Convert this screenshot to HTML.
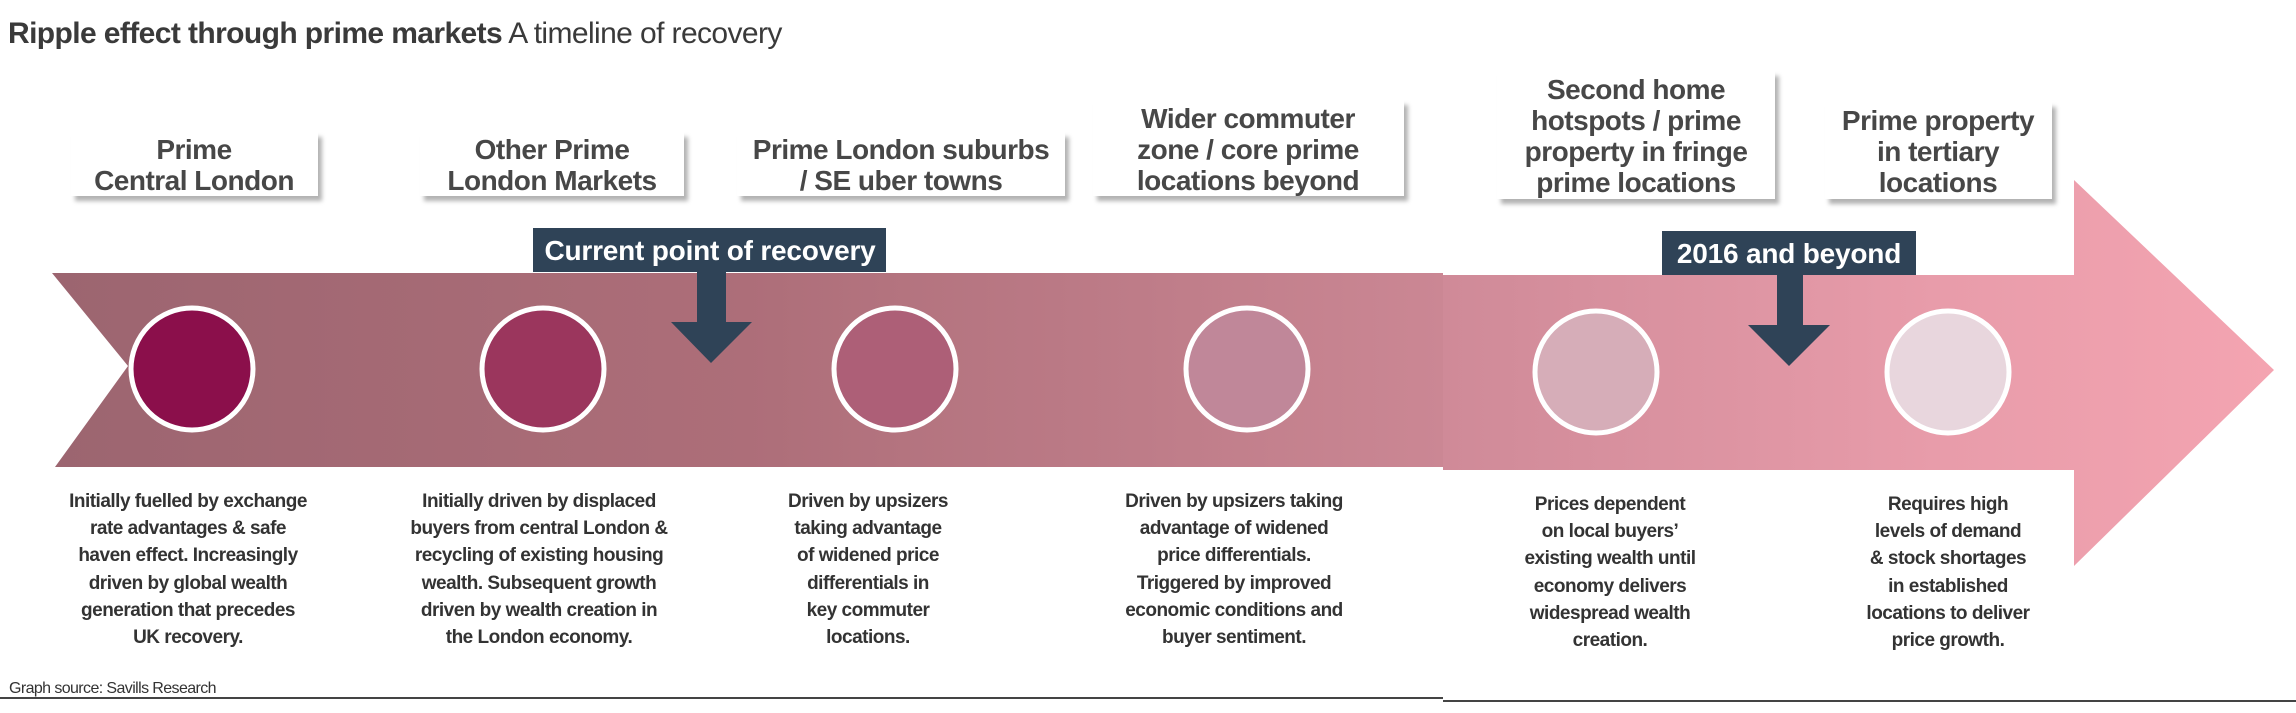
<!DOCTYPE html>
<html><head><meta charset="utf-8"><style>
html,body{margin:0;padding:0;background:#fff;}
svg{display:block;}
.t{font-family:"Liberation Sans",sans-serif;}
.lb{font-family:"Liberation Sans",sans-serif;font-size:28px;font-weight:bold;fill:#474747;text-anchor:middle;letter-spacing:-0.5px;}
.ds{font-family:"Liberation Sans",sans-serif;font-size:19px;font-weight:bold;fill:#333;text-anchor:middle;letter-spacing:-0.5px;}
.cl{font-family:"Liberation Sans",sans-serif;font-size:28px;font-weight:bold;fill:#fff;text-anchor:middle;letter-spacing:-0.2px;}
</style></head><body>
<svg width="2296" height="713" viewBox="0 0 2296 713" xmlns="http://www.w3.org/2000/svg">
<defs>
<linearGradient id="g1" x1="52" x2="1443" gradientUnits="userSpaceOnUse" y1="0" y2="0">
<stop offset="0" stop-color="#9c6570"/><stop offset="0.5" stop-color="#ad6e79"/><stop offset="1" stop-color="#cb8794"/>
</linearGradient>
<linearGradient id="g2" x1="1443" x2="2274" gradientUnits="userSpaceOnUse" y1="0" y2="0">
<stop offset="0" stop-color="#cf8a98"/><stop offset="0.6" stop-color="#e89caa"/><stop offset="1" stop-color="#f4a4b1"/>
</linearGradient>
<filter id="sh" x="-10%" y="-10%" width="130%" height="140%"><feDropShadow dx="4" dy="5" stdDeviation="2" flood-color="#000" flood-opacity="0.3"/></filter>
</defs>
<text x="8" y="43" class="t" font-size="30" fill="#3a3a3a" letter-spacing="-0.6"><tspan font-weight="bold">Ripple effect through prime markets</tspan> <tspan>A timeline of recovery</tspan></text>

<polygon points="52,273 1443,273 1443,467 55,467 128,366" fill="url(#g1)"/>
<polygon points="1443,275 2074,275 2074,180 2274,370 2074,566 2074,470 1443,470" fill="url(#g2)"/>

<g stroke="#fff" stroke-width="5">
<circle cx="192" cy="369" r="61" fill="#8b0f4b"/>
<circle cx="543" cy="369" r="61" fill="#9b365d"/>
<circle cx="895" cy="369" r="61" fill="#ad5f77"/>
<circle cx="1247" cy="369" r="61" fill="#c08799"/>
<circle cx="1596" cy="372" r="61" fill="#d6adb8"/>
<circle cx="1948" cy="372" r="61" fill="#e8d6dd"/>
</g>

<g fill="#fff" filter="url(#sh)">
<rect x="71" y="132" width="247" height="64"/>
<rect x="420" y="132" width="264" height="64"/>
<rect x="737" y="132" width="328" height="64"/>
<rect x="1093" y="100" width="311" height="96"/>
<rect x="1497" y="71" width="278" height="128"/>
<rect x="1825" y="102" width="227" height="97"/>
</g>
<text class="lb"><tspan x="194" y="159">Prime</tspan><tspan x="194" y="190">Central London</tspan></text>
<text class="lb"><tspan x="552" y="159">Other Prime</tspan><tspan x="552" y="190">London Markets</tspan></text>
<text class="lb"><tspan x="901" y="159">Prime London suburbs</tspan><tspan x="901" y="190">/ SE uber towns</tspan></text>
<text class="lb"><tspan x="1248" y="128">Wider commuter</tspan><tspan x="1248" y="159">zone / core prime</tspan><tspan x="1248" y="190">locations beyond</tspan></text>
<text class="lb"><tspan x="1636" y="99">Second home</tspan><tspan x="1636" y="130">hotspots / prime</tspan><tspan x="1636" y="161">property in fringe</tspan><tspan x="1636" y="192">prime locations</tspan></text>
<text class="lb"><tspan x="1938" y="130">Prime property</tspan><tspan x="1938" y="161">in tertiary</tspan><tspan x="1938" y="192">locations</tspan></text>

<g fill="#2f4357">
<rect x="533" y="228" width="353" height="44"/>
<rect x="697" y="271" width="29" height="52"/>
<polygon points="671,322 752,322 711,363"/>
<rect x="1662" y="231" width="254" height="44"/>
<rect x="1777" y="274" width="26" height="52"/>
<polygon points="1748,325 1830,325 1789,366"/>
</g>
<text class="cl" x="710" y="260">Current point of recovery</text>
<text class="cl" x="1789" y="263">2016 and beyond</text>

<text class="ds"><tspan x="188" y="507">Initially fuelled by exchange</tspan><tspan x="188" y="534">rate advantages &amp; safe</tspan><tspan x="188" y="561">haven effect. Increasingly</tspan><tspan x="188" y="589">driven by global wealth</tspan><tspan x="188" y="616">generation that precedes</tspan><tspan x="188" y="643">UK recovery.</tspan></text>
<text class="ds"><tspan x="539" y="507">Initially driven by displaced</tspan><tspan x="539" y="534">buyers from central London &amp;</tspan><tspan x="539" y="561">recycling of existing housing</tspan><tspan x="539" y="589">wealth. Subsequent growth</tspan><tspan x="539" y="616">driven by wealth creation in</tspan><tspan x="539" y="643">the London economy.</tspan></text>
<text class="ds"><tspan x="868" y="507">Driven by upsizers</tspan><tspan x="868" y="534">taking advantage</tspan><tspan x="868" y="561">of widened price</tspan><tspan x="868" y="589">differentials in</tspan><tspan x="868" y="616">key commuter</tspan><tspan x="868" y="643">locations.</tspan></text>
<text class="ds"><tspan x="1234" y="507">Driven by upsizers taking</tspan><tspan x="1234" y="534">advantage of widened</tspan><tspan x="1234" y="561">price differentials.</tspan><tspan x="1234" y="589">Triggered by improved</tspan><tspan x="1234" y="616">economic conditions and</tspan><tspan x="1234" y="643">buyer sentiment.</tspan></text>
<text class="ds"><tspan x="1610" y="510">Prices dependent</tspan><tspan x="1610" y="537">on local buyers’</tspan><tspan x="1610" y="564">existing wealth until</tspan><tspan x="1610" y="592">economy delivers</tspan><tspan x="1610" y="619">widespread wealth</tspan><tspan x="1610" y="646">creation.</tspan></text>
<text class="ds"><tspan x="1948" y="510">Requires high</tspan><tspan x="1948" y="537">levels of demand</tspan><tspan x="1948" y="564">&amp; stock shortages</tspan><tspan x="1948" y="592">in established</tspan><tspan x="1948" y="619">locations to deliver</tspan><tspan x="1948" y="646">price growth.</tspan></text>

<text x="9" y="693" class="t" font-size="16" fill="#333" letter-spacing="-0.6">Graph source: Savills Research</text>
<rect x="0" y="697" width="1443" height="2" fill="#444"/>
<rect x="1443" y="700" width="853" height="2" fill="#444"/>
</svg>
</body></html>
